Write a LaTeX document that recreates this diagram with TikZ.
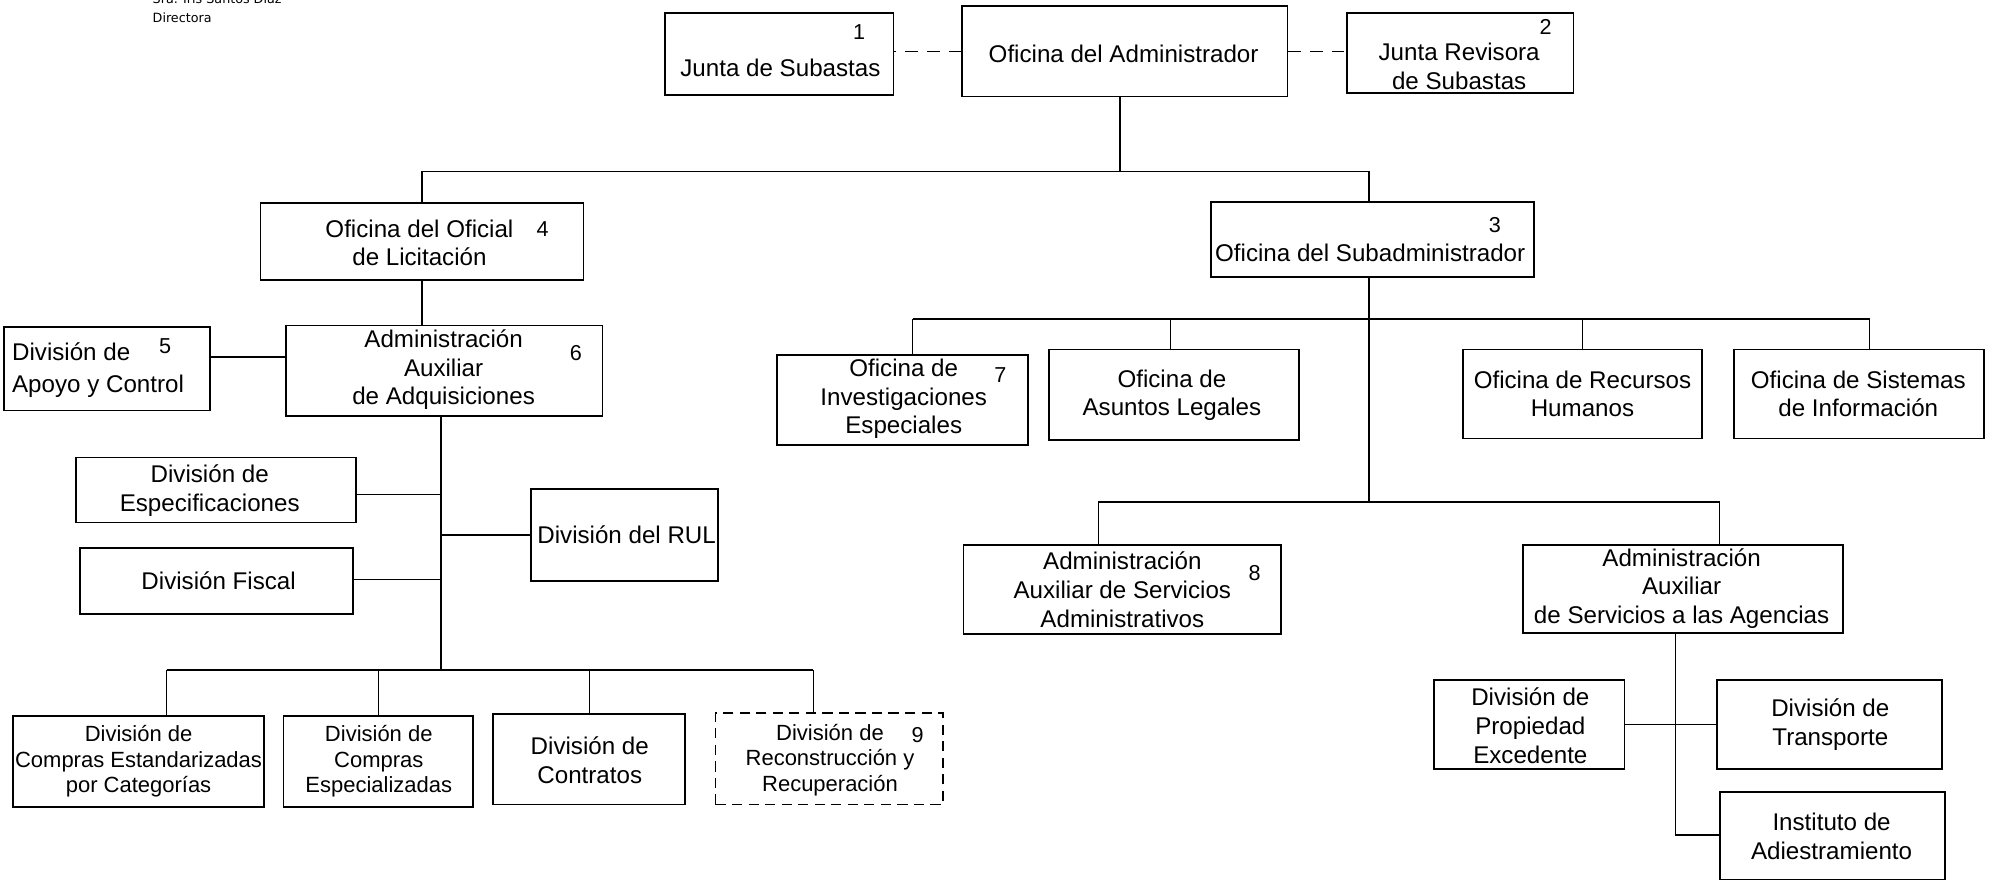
\documentclass[tikz,border=0pt]{standalone}
\usepackage{fontspec}
\setmainfont{Liberation Sans}
\newfontfamily\notefont{DejaVu Sans}
\begin{document}
\begin{tikzpicture}[x=1pt,y=-1pt,line width=1.1pt,
  box/.style={draw,rectangle,line width=1.4pt,inner sep=0pt},
  dbox/.style={box,dash pattern=on 8pt off 5pt},
  txt/.style={align=center,inner sep=0pt,font=\fontsize{19}{22.5}\selectfont},
  stxt/.style={txt,font=\fontsize{17.3}{20}\selectfont},
  ltxt/.style={align=left,inner sep=0pt,anchor=west,font=\fontsize{19}{25}\selectfont},
  num/.style={inner sep=0pt,font=\fontsize{17}{20}\selectfont},
  note/.style={inner sep=0pt,anchor=base west,font=\notefont\fontsize{10}{12}\selectfont},
  dline/.style={line width=1.4pt,dash pattern=on 10pt off 7pt}]
\useasboundingbox (0,0) rectangle (1568,694);

% header note
\node[note] (dir1) at (119.6,3) {Sra. Iris Santos Díaz};
\node[note] (dir2) at (119.6,17.5) {Directora};

% boxes
\node[box,minimum width=180pt,minimum height=65pt] (jsub) at (613,42.5) {};
\node[box,minimum width=256pt,minimum height=71pt] (adm) at (885,40.5) {};
\node[box,minimum width=178pt,minimum height=63pt] (jrev) at (1149,41.5) {};
\node[box,minimum width=254pt,minimum height=60pt] (ofi) at (332,190) {};
\node[box,minimum width=254pt,minimum height=59pt] (sub) at (1080,188.5) {};
\node[box,minimum width=249pt,minimum height=71pt] (aaa) at (349.5,291.5) {};
\node[box,minimum width=162pt,minimum height=66pt] (dap) at (84,290) {};
\node[box,minimum width=220pt,minimum height=51pt] (desp) at (170,385.5) {};
\node[box,minimum width=215pt,minimum height=52pt] (dfis) at (170.5,457) {};
\node[box,minimum width=147pt,minimum height=72pt] (drul) at (491.5,421) {};
\node[box,minimum width=198pt,minimum height=72pt] (dce) at (109,599) {};
\node[box,minimum width=149pt,minimum height=72pt] (dcs) at (297.5,599) {};
\node[box,minimum width=151pt,minimum height=71pt] (dco) at (463.5,597.5) {};
\node[dbox,minimum width=179pt,minimum height=72pt] (drr) at (652.5,597) {};
\node[box,minimum width=198pt,minimum height=71pt] (oie) at (710,314.5) {};
\node[box,minimum width=197pt,minimum height=71pt] (oal) at (923.5,310.5) {};
\node[box,minimum width=188pt,minimum height=70pt] (orh) at (1245,310) {};
\node[box,minimum width=197pt,minimum height=70pt] (osi) at (1462.5,310) {};
\node[box,minimum width=250pt,minimum height=70pt] (aasa) at (883,464) {};
\node[box,minimum width=252pt,minimum height=69pt] (aasag) at (1324,463.5) {};
\node[box,minimum width=150pt,minimum height=70pt] (dpe) at (1203,570) {};
\node[box,minimum width=177pt,minimum height=70pt] (dtr) at (1439.5,570) {};
\node[box,minimum width=177pt,minimum height=69pt] (iad) at (1441.5,657.5) {};

% texts
\node[txt] (tjsub) at (614,53) {Junta de Subastas};
\node[txt] (tadm) at (884,42) {Oficina del Administrador};
\node[txt] (tjrev) at (1148,52) {Junta Revisora\\de Subastas};
\node[txt] (tofi) at (330,191) {Oficina del Oficial\\de Licitación};
\node[txt] (tsub) at (1078,199) {Oficina del Subadministrador};
\node[txt] (taaa) at (349,291) {Administración\\Auxiliar\\de Adquisiciones};
\node[ltxt] (tdap) at (9,291) {División de\\Apoyo y Control};
\node[txt] (tdesp) at (165,386) {División de\\Especificaciones};
\node[txt] (tdfis) at (172,457) {División Fiscal};
\node[txt] (tdrul) at (493,421) {División del RUL};
\node[stxt] (tdce) at (109,599) {División de\\Compras Estandarizadas\\por Categorías};
\node[stxt] (tdcs) at (298,599) {División de\\Compras\\Especializadas};
\node[txt] (tdco) at (464,598) {División de\\Contratos};
\node[stxt] (tdrr) at (653,598) {División de\\Reconstrucción y\\Recuperación};
\node[txt] (toie) at (711,314) {Oficina de\\Investigaciones\\Especiales};
\node[txt] (toal) at (922,311) {Oficina de\\Asuntos Legales};
\node[txt] (torh) at (1245,310) {Oficina de Recursos\\Humanos};
\node[txt] (tosi) at (1462,310) {Oficina de Sistemas\\de Información};
\node[txt] (taasa) at (883,464) {Administración\\Auxiliar de Servicios\\Administrativos};
\node[txt] (taasag) at (1323,463) {Administración\\Auxiliar\\de Servicios a las Agencias};
\node[txt] (tdpe) at (1204,571) {División de\\Propiedad\\Excedente};
\node[txt] (tdtr) at (1440,570) {División de\\Transporte};
\node[txt] (tiad) at (1441,658) {Instituto de\\Adiestramiento};

% numbers
\node[num] (n1) at (676,25) {1};
\node[num] (n2) at (1216,21) {2};
\node[num] (n3) at (1176,177) {3};
\node[num] (n4) at (427,180) {4};
\node[num] (n5) at (130,272) {5};
\node[num] (n6) at (453,278) {6};
\node[num] (n7) at (787,295) {7};
\node[num] (n8) at (987,451) {8};
\node[num] (n9) at (722,578) {9};

% dashed links
\draw[dline] (adm.west) -- (adm.west -| jsub.east);
\draw[dline] (adm.east) -- (adm.east -| jrev.west);

% top tree
\coordinate (t1) at (881,135);
\coordinate (tL) at (332,135);
\coordinate (tR) at (1077,135);
\draw (t1 |- adm.south) -- (t1);
\draw (tL |- ofi.north) -- (tL) -- (tR) -- (tR |- sub.north);
\draw (tL |- ofi.south) -- (tL |- aaa.north);
\coordinate (c5) at (165,281);
\draw (dap.east |- c5) -- (aaa.west |- c5);

% left spine
\coordinate (sA) at (347,527);
\draw (sA |- aaa.south) -- (sA);
\coordinate (yE) at (347,389);
\coordinate (yF) at (347,456);
\coordinate (yR) at (347,421);
\draw (desp.east |- yE) -- (yE);
\draw (dfis.east |- yF) -- (yF);
\draw (yR) -- (drul.west |- yR);
\coordinate (b1) at (131,527);
\coordinate (b2) at (298,527);
\coordinate (b3) at (464,527);
\coordinate (b4) at (640,527);
\draw (b1) -- (b4);
\draw (b1) -- (b1 |- dce.north);
\draw (b2) -- (b2 |- dcs.north);
\draw (b3) -- (b3 |- dco.north);
\draw (b4) -- (b4 |- drr.north);

% right spine
\coordinate (sB) at (1077,395);
\draw (sB |- sub.south) -- (sB);
\coordinate (r1) at (718,251);
\coordinate (r2) at (921,251);
\coordinate (r3) at (1245,251);
\coordinate (r4) at (1471,251);
\draw (r1) -- (r4);
\draw (r1) -- (r1 |- oie.north);
\draw (r2) -- (r2 |- oal.north);
\draw (r3) -- (r3 |- orh.north);
\draw (r4) -- (r4 |- osi.north);
\coordinate (q1) at (864,395);
\coordinate (q2) at (1353,395);
\draw (q1 |- aasa.north) -- (q1) -- (q2) -- (q2 |- aasag.north);
\coordinate (g1) at (1318,657);
\coordinate (g2) at (1318,570);
\draw (g1 |- aasag.south) -- (g1) -- (iad.west |- g1);
\draw (dpe.east |- g2) -- (dtr.west |- g2);
\end{tikzpicture}
\end{document}
